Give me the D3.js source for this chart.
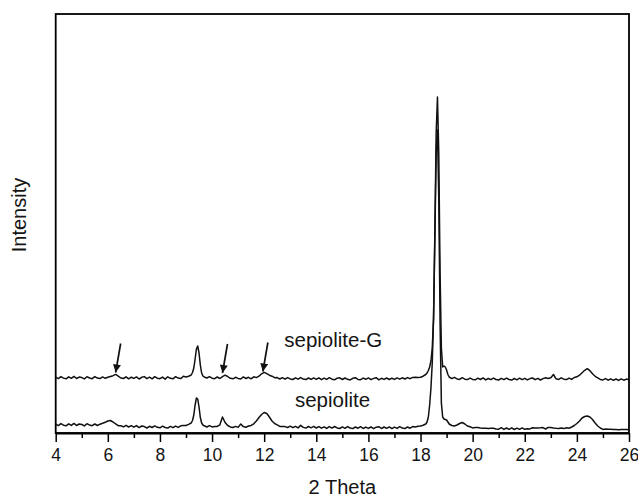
<!DOCTYPE html>
<html>
<head>
<meta charset="utf-8">
<script src="https://cdn.jsdelivr.net/npm/d3@7"></script>
<style>
  html, body { margin: 0; padding: 0; background: #fff; }
  svg { display: block; }
  text { font-family: "Liberation Sans", Arial, Helvetica, sans-serif; fill: #141414; }
</style>
</head>
<body>
<svg id="chart" width="638" height="502"></svg>
<script>
// ---------- data ----------
const theta = [
  4.0,4.1,4.2,4.3,4.4,4.5,4.6,4.7,4.8,4.9,
  5.0,5.1,5.2,5.3,5.4,5.5,5.6,5.7,5.8,5.9,
  6.0,6.1,6.2,6.3,6.4,6.5,6.6,6.7,6.8,6.9,
  7.0,7.1,7.2,7.3,7.4,7.5,7.6,7.7,7.8,7.9,
  8.0,8.1,8.2,8.3,8.4,8.5,8.6,8.7,8.8,8.9,
  9.0,9.1,9.2,9.25,9.3,9.35,9.4,9.45,9.5,9.55,9.6,9.65,9.7,9.8,9.9,
  10.0,10.1,10.2,10.3,10.4,10.5,10.6,10.7,10.8,10.9,
  11.0,11.1,11.2,11.3,11.4,11.5,11.6,11.7,11.8,11.9,
  12.0,12.1,12.2,12.3,12.4,12.5,12.6,12.7,12.8,12.9,
  13.0,13.1,13.2,13.3,13.4,13.5,13.6,13.7,13.8,13.9,
  14.0,14.1,14.2,14.3,14.4,14.5,14.6,14.7,14.8,14.9,
  15.0,15.1,15.2,15.3,15.4,15.5,15.6,15.7,15.8,15.9,
  16.0,16.1,16.2,16.3,16.4,16.5,16.6,16.7,16.8,16.9,
  17.0,17.1,17.2,17.3,17.4,17.5,17.6,17.7,17.8,17.9,
  18.0,18.1,18.2,18.25,18.3,18.35,18.4,18.45,18.5,18.55,18.6,18.65,18.7,18.75,18.8,18.85,18.9,18.95,
  19.0,19.05,19.1,19.2,19.3,19.4,19.5,19.6,19.7,19.8,19.9,
  20.0,20.1,20.2,20.3,20.4,20.5,20.6,20.7,20.8,20.9,
  21.0,21.1,21.2,21.3,21.4,21.5,21.6,21.7,21.8,21.9,
  22.0,22.1,22.2,22.3,22.4,22.5,22.6,22.7,22.8,22.9,
  23.0,23.1,23.2,23.3,23.4,23.5,23.6,23.7,23.8,23.9,
  24.0,24.1,24.2,24.3,24.4,24.5,24.6,24.7,24.8,24.9,
  25.0,25.1,25.2,25.3,25.4,25.5,25.6,25.7,25.8,25.9,
  26.0
];

// sepiolite-G (upper, offset trace), arbitrary units
const sepioliteG = [
  55.9,54.4,56.4,54.9,54.2,56.2,54.7,56.6,54.5,55.9,
  55.4,54.1,56.3,55.0,54.3,56.4,54.9,54.4,56.1,54.7,
  55.7,56.5,57.3,58.6,56.9,55.0,54.5,56.2,54.2,55.8,
  54.6,56.1,54.0,55.7,56.4,54.4,55.8,54.2,56.3,54.8,
  54.3,55.9,53.9,56.2,54.7,54.2,56.3,54.9,54.4,56.7,
  56.0,56.8,58.0,60.5,65.0,74.0,84.0,87.0,80.0,68.0,60.0,57.0,56.0,55.0,56.4,
  54.8,54.3,56.0,54.5,56.3,57.8,56.5,54.7,54.2,55.7,
  54.6,54.0,56.1,54.5,55.7,54.2,56.2,55.4,56.8,59.2,
  60.6,59.3,57.8,56.8,55.3,55.4,54.0,55.3,53.8,55.4,
  54.1,53.5,55.2,53.8,55.4,53.9,53.4,55.0,53.6,55.1,
  53.7,55.2,53.3,54.9,53.6,55.3,53.8,53.2,54.8,55.2,
  53.5,55.0,53.7,53.1,54.7,55.3,53.6,53.3,54.9,53.7,
  55.1,53.4,54.6,55.3,53.2,54.7,53.6,55.0,53.5,54.8,
  53.6,55.1,53.8,55.2,54.0,55.4,54.3,55.6,55.7,55.5,
  55.8,56.8,58.5,60.0,62.5,66.0,72.0,85.0,115.0,200.0,300.0,336.0,280.0,160.0,85.0,66.0,67.0,66.0,
  63.0,58.5,56.0,54.4,55.7,54.1,53.6,55.3,53.8,53.4,54.9,
  53.6,53.2,54.8,53.5,55.1,53.1,54.5,53.4,54.9,53.5,
  53.0,54.6,53.3,54.9,53.5,52.9,54.5,53.2,54.8,53.4,
  54.7,53.1,54.4,55.0,53.3,54.6,53.0,54.4,55.2,54.5,
  55.3,58.5,54.2,53.6,55.2,53.8,53.4,54.9,53.6,55.5,
  56.2,57.8,60.3,62.7,64.3,62.3,59.2,56.7,55.2,53.6,
  53.1,54.4,52.8,54.2,52.7,54.0,52.6,54.1,52.8,53.9,
  53.3
];

// sepiolite (lower trace), arbitrary units
const sepiolite = [
  8.9,7.4,9.4,7.8,7.2,9.2,7.6,9.6,7.5,9.0,
  8.5,7.1,9.3,7.9,7.3,9.0,7.5,8.8,9.7,10.7,
  12.0,12.5,11.0,9.2,7.3,7.3,6.1,7.6,6.0,7.3,
  5.8,7.4,5.4,7.0,6.4,5.0,6.7,5.5,7.1,5.7,
  5.2,6.8,5.5,4.9,6.6,5.3,6.9,5.6,7.2,7.5,
  7.5,8.6,10.0,12.5,18.0,28.0,35.0,34.0,26.0,15.5,10.0,8.0,7.2,6.0,7.4,
  6.1,6.4,6.6,8.2,16.0,10.5,7.5,6.1,5.5,6.6,
  5.6,9.0,6.4,5.8,7.0,7.6,9.2,12.0,15.5,18.5,
  20.5,19.5,16.0,12.0,9.5,8.2,6.6,6.6,6.4,5.5,
  6.8,5.3,6.7,5.1,7.6,5.6,4.9,6.5,5.2,6.6,
  5.0,6.4,4.8,6.2,4.6,6.3,4.9,6.5,5.1,4.5,
  6.1,4.7,6.4,5.0,4.4,6.0,4.8,6.3,4.5,5.9,
  4.6,6.2,4.3,5.8,6.3,4.5,6.0,4.7,6.1,4.4,
  5.9,4.6,6.3,4.9,4.4,6.0,4.8,6.4,6.0,6.7,
  7.0,7.8,9.0,11.0,16.0,28.0,45.0,70.0,115.0,195.0,280.0,303.0,235.0,110.0,30.0,16.0,14.0,13.5,
  13.0,11.0,9.0,7.5,7.0,8.0,9.5,10.5,9.0,7.0,6.2,
  5.1,5.4,5.4,5.0,4.8,4.8,4.6,4.7,4.7,4.1,
  3.8,5.3,3.6,5.0,3.7,5.2,3.5,4.9,3.6,5.1,
  3.7,4.2,4.1,5.3,4.9,5.1,5.2,5.4,4.0,5.6,
  5.4,5.0,4.7,4.6,5.0,4.4,5.2,4.8,6.0,7.5,
  9.5,12.0,15.0,16.5,17.0,16.0,13.5,10.0,7.0,5.0,
  3.6,3.9,3.8,3.7,3.5,3.5,3.3,3.6,3.4,3.4,
  3.2
];

const majorTicks = [4, 6, 8, 10, 12, 14, 16, 18, 20, 22, 24, 26];
const minorTicks = [5, 7, 9, 11, 13, 15, 17, 19, 21, 23, 25];

// arrows marking the new reflections of sepiolite-G (theta, intensity at tip)
const arrowTheta = [6.3, 10.4, 11.95];
const arrowTip   = [60.5, 60.0, 61.5];

const seriesNames = ["sepiolite-G", "sepiolite"];

// ---------- layout ----------
const svg = d3.select("#chart");
const mLeft = 55.7, mRight = 629, mTop = 14, mBottom = 433;

const x = d3.scaleLinear().domain([4, 26]).range([mLeft, mRight]);
const y = d3.scaleLinear().domain([0, 419]).range([mBottom, mTop]);

// frame
svg.append("rect")
  .attr("x", mLeft).attr("y", mTop)
  .attr("width", mRight - mLeft).attr("height", mBottom - mTop)
  .attr("fill", "none").attr("stroke", "#000").attr("stroke-width", 1.8);

// x axis: major ticks
const xAxis = d3.axisBottom(x)
  .tickValues(majorTicks)
  .tickFormat(d3.format("d"))
  .tickSize(9)
  .tickSizeOuter(0)
  .tickPadding(4);

const gx = svg.append("g").attr("transform", `translate(0,${mBottom})`).call(xAxis);
gx.select(".domain").attr("stroke", "#000").attr("stroke-width", 1.8);
gx.selectAll(".tick line").attr("stroke", "#000").attr("stroke-width", 1.5);
gx.selectAll(".tick text")
  .attr("y", 28).attr("dy", 0)
  .style("font-size", "17.5px")
  .style("font-family", '"Liberation Sans", Arial, sans-serif')
  .attr("fill", "#141414");

// minor ticks
const gxm = svg.append("g").attr("transform", `translate(0,${mBottom})`)
  .call(d3.axisBottom(x).tickValues(minorTicks).tickFormat("").tickSize(5).tickSizeOuter(0));
gxm.select(".domain").remove();
gxm.selectAll(".tick line").attr("stroke", "#000").attr("stroke-width", 1.5);

// axis titles
svg.append("text")
  .attr("x", (mLeft + mRight) / 2).attr("y", 494)
  .attr("text-anchor", "middle")
  .style("font-size", "20px")
  .text("2 Theta");

svg.append("text")
  .attr("transform", `translate(26,215) rotate(-90)`)
  .attr("text-anchor", "middle")
  .style("font-size", "20px")
  .text("Intensity");

// traces
const line = d3.line()
  .x(d => x(d[0]))
  .y(d => y(d[1]));

[sepioliteG, sepiolite].forEach(vals => {
  svg.append("path")
    .datum(d3.zip(theta, vals))
    .attr("fill", "none")
    .attr("stroke", "#111")
    .attr("stroke-width", 1.5)
    .attr("stroke-linejoin", "round")
    .attr("d", line);
});

// series labels
svg.append("text")
  .attr("x", x(12.77)).attr("y", y(86))
  .style("font-size", "20.5px")
  .text(seriesNames[0]);
svg.append("text")
  .attr("x", x(13.18)).attr("y", y(26))
  .style("font-size", "20.5px")
  .text(seriesNames[1]);

// arrows
const defs = svg.append("defs");
defs.append("marker")
  .attr("id", "ah")
  .attr("viewBox", "0 0 10 10")
  .attr("refX", 10).attr("refY", 5)
  .attr("markerUnits", "userSpaceOnUse")
  .attr("markerWidth", 11).attr("markerHeight", 8)
  .attr("orient", "auto")
  .append("path").attr("d", "M0,0 L10,5 L0,10 Z").attr("fill", "#111");

arrowTheta.forEach((t, i) => {
  const tx = x(t), ty = y(arrowTip[i]);
  svg.append("line")
    .attr("x1", tx + 5).attr("y1", ty - 29)
    .attr("x2", tx).attr("y2", ty)
    .attr("stroke", "#111").attr("stroke-width", 1.7)
    .attr("marker-end", "url(#ah)");
});
</script>
</body>
</html>
